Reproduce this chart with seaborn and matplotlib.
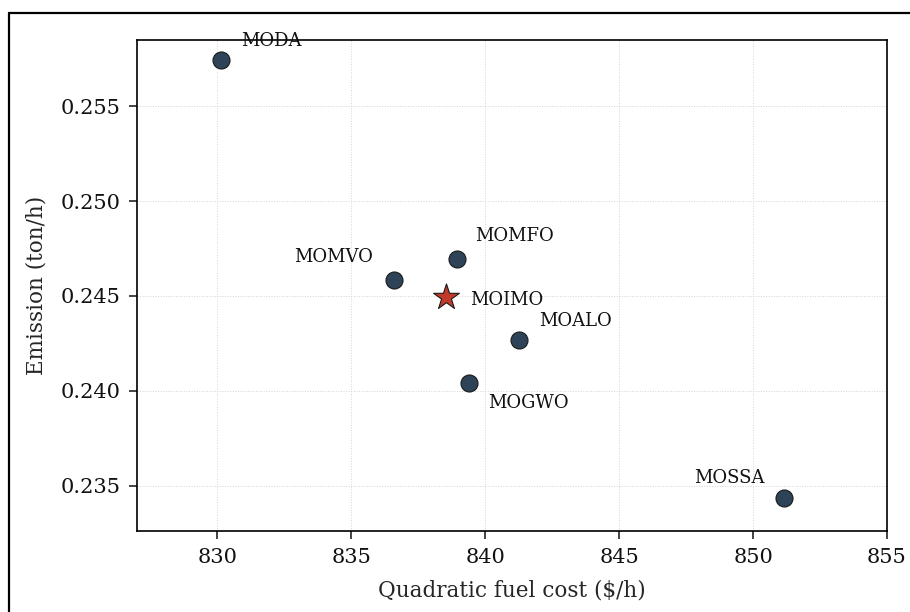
import matplotlib
matplotlib.use("Agg")
import matplotlib.pyplot as plt
import seaborn as sns
import pandas as pd
from matplotlib.lines import Line2D

# Pareto-front comparison of the multi-objective optimizers
algorithms = ["MODA", "MOMVO", "MOMFO", "MOIMO", "MOALO", "MOGWO", "MOSSA"]
fuel_cost = [830.15, 836.60, 838.96, 838.54, 841.27, 839.40, 851.16]
emission = [0.25742, 0.24583, 0.24694, 0.24493, 0.24266, 0.24043, 0.23435]

# label placement (offset in points, horizontal alignment)
label_offsets = {
    "MODA": (14, 14, "left"),
    "MOMVO": (-15, 17, "right"),
    "MOMFO": (13, 17, "left"),
    "MOIMO": (17, -2, "left"),
    "MOALO": (14, 14, "left"),
    "MOGWO": (14, -15, "left"),
    "MOSSA": (-14, 14, "right"),
}

df = pd.DataFrame({"algorithm": algorithms, "cost": fuel_cost, "emission": emission})
proposed = df[df["algorithm"] == "MOIMO"]
others = df[df["algorithm"] != "MOIMO"]

sns.set_theme(style="white")
plt.rcParams["font.family"] = ["DejaVu Serif"]

fig = plt.figure(figsize=(9.10, 6.12), dpi=100)
ax = fig.add_axes([137 / 910, 1 - 531 / 612, (887 - 137) / 910, (531 - 40) / 612])

sns.scatterplot(data=others, x="cost", y="emission", ax=ax, s=150,
                color="#2e4358", edgecolor="#1a1a1a", linewidth=0.8, zorder=3)
sns.scatterplot(data=proposed, x="cost", y="emission", ax=ax, s=380, marker="*",
                color="#c0392b", edgecolor="#1a1a1a", linewidth=0.8, zorder=4)

for name, x, y in zip(algorithms, fuel_cost, emission):
    dx, dy, ha = label_offsets[name]
    ax.annotate(name, (x, y), xytext=(dx, dy), textcoords="offset points",
                ha=ha, va="center", fontsize=13, color="#111111")

ax.set_xlim(827, 855)
ax.set_ylim(0.2326, 0.2585)
ax.set_xticks([830, 835, 840, 845, 850, 855])
ax.set_yticks([0.235, 0.240, 0.245, 0.250, 0.255])
ax.set_yticklabels(["0.235", "0.240", "0.245", "0.250", "0.255"])
ax.set_xlabel("Quadratic fuel cost ($/h)", fontsize=15.5, labelpad=9)
ax.set_ylabel("Emission (ton/h)", fontsize=15.5, labelpad=9.5)
ax.tick_params(axis="both", labelsize=15, direction="out", length=6, width=1.1,
               pad=6, bottom=True, left=True, colors="#111111")
ax.grid(True, linestyle=":", linewidth=0.7, color="#d4d4d4")
for sp in ax.spines.values():
    sp.set_visible(True)
    sp.set_color("black")
    sp.set_linewidth(1.2)

# outer frame of the figure panel
fig.add_artist(Line2D([8.5 / 910, 8.5 / 910], [0, 1 - 13 / 612], transform=fig.transFigure,
                      color="black", linewidth=1.6))
fig.add_artist(Line2D([8.5 / 910, 1], [1 - 13 / 612, 1 - 13 / 612], transform=fig.transFigure,
                      color="black", linewidth=1.6))

fig.savefig("out.png", dpi=100)
